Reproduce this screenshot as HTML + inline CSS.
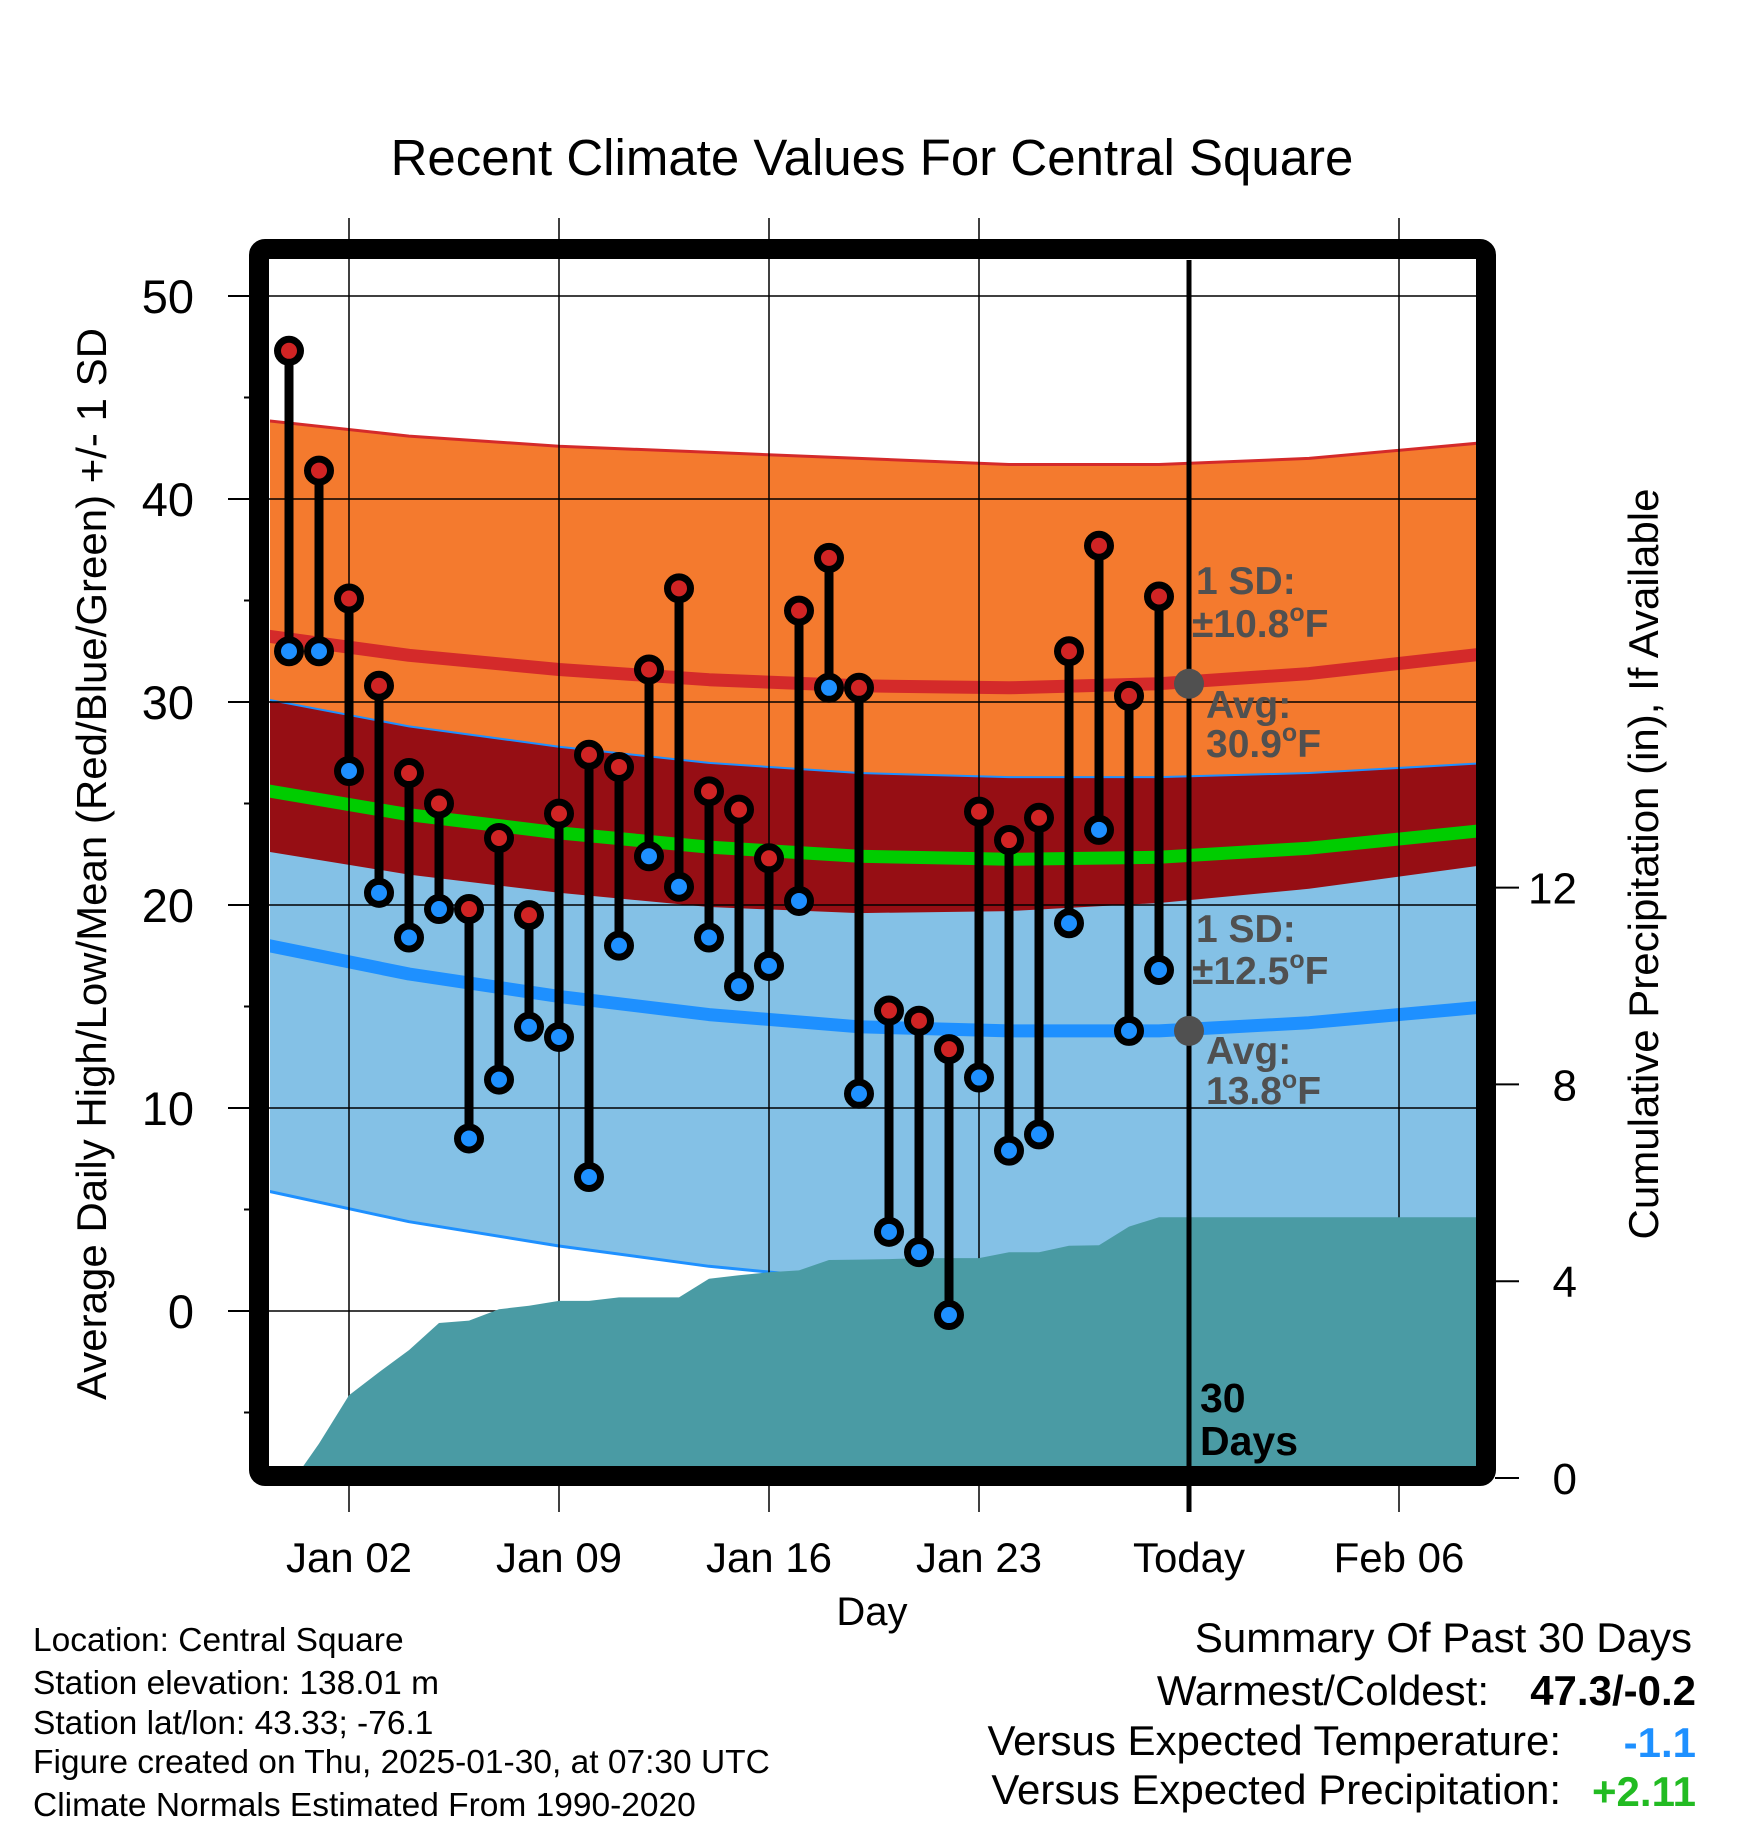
<!DOCTYPE html>
<html><head><meta charset="utf-8">
<style>
html,body{margin:0;padding:0;background:#fff;}
svg{display:block;font-family:"Liberation Sans",Arial,sans-serif;}
</style></head>
<body>
<svg id="chart" width="1748" height="1828" viewBox="0 0 1748 1828" xmlns="http://www.w3.org/2000/svg">
<defs><clipPath id="plotclip"><rect x="270" y="260" width="1208" height="1206"/></clipPath></defs>
<rect x="0" y="0" width="1748" height="1828" fill="#fff"/>
<text x="872" y="175" font-size="51" text-anchor="middle">Recent Climate Values For Central Square</text>
<g id="bands" clip-path="url(#plotclip)"></g>
<g id="grid"></g>
<g id="precip" clip-path="url(#plotclip)"></g>
<g id="marks"></g>
<g id="annot"></g>
<rect x="259" y="249" width="1227" height="1227" rx="6" fill="none" stroke="#000" stroke-width="20"/>
<g id="axes"></g>
<text transform="translate(106,864) rotate(-90)" font-size="42" text-anchor="middle">Average Daily High/Low/Mean (Red/Blue/Green) +/- 1 SD</text>
<text transform="translate(1658,864) rotate(-90)" font-size="42" text-anchor="middle">Cumulative Precipitation (in), If Available</text>
<text x="872" y="1625" font-size="40" text-anchor="middle">Day</text>
<g font-size="33.5">
<text x="33" y="1651">Location: Central Square</text>
<text x="33" y="1694">Station elevation: 138.01 m</text>
<text x="33" y="1734">Station lat/lon: 43.33; -76.1</text>
<text x="33" y="1773">Figure created on Thu, 2025-01-30, at 07:30 UTC</text>
<text x="33" y="1816">Climate Normals Estimated From 1990-2020</text>
</g>
<g font-size="42">
<text x="1692" y="1652" text-anchor="end">Summary Of Past 30 Days</text>
<text x="1489" y="1705" text-anchor="end">Warmest/Coldest:</text>
<text x="1696" y="1705" text-anchor="end" font-weight="bold">47.3/-0.2</text>
<text x="1561" y="1755" text-anchor="end">Versus Expected Temperature:</text>
<text x="1696" y="1757" text-anchor="end" font-weight="bold" fill="#1E90FF">-1.1</text>
<text x="1561" y="1804" text-anchor="end">Versus Expected Precipitation:</text>
<text x="1696" y="1806" text-anchor="end" font-weight="bold" fill="#22BB22">+2.11</text>
</g>
</svg>
<script>
// day index: 0 = Dec 31
const highs = [47.3,41.4,35.1,30.8,26.5,25.0,19.8,23.3,19.5,24.5,27.4,26.8,31.6,35.6,25.6,24.7,22.3,34.5,37.1,30.7,14.8,14.3,12.9,24.6,23.2,24.3,32.5,37.7,30.3,35.2];
const lows  = [32.5,32.5,26.6,20.6,18.4,19.8,8.5,11.4,14.0,13.5,6.6,18.0,22.4,20.9,18.4,16.0,17.0,20.2,30.7,10.7,3.9,2.9,-0.2,11.5,7.9,8.7,19.1,23.7,13.8,16.8];
const precip = [0,0.7,1.68,2.15,2.6,3.15,3.2,3.43,3.5,3.6,3.6,3.67,3.67,3.67,4.05,4.12,4.18,4.22,4.43,4.44,4.45,4.47,4.47,4.47,4.59,4.59,4.72,4.73,5.11,5.30];
const normDays = [-1,4,9,14,19,24,29,34,40];
const hiMean = [33.3,32.3,31.6,31.1,30.8,30.7,30.9,31.4,32.4];
const hiSD   = [10.6,10.8,11.0,11.2,11.2,11.0,10.8,10.6,10.4];
const loMean = [18.1,16.6,15.5,14.6,14.0,13.8,13.8,14.2,15.0];
const loSD   = [12.1,12.2,12.3,12.4,12.5,12.5,12.5,12.3,12.0];
const yTicks = [0,10,20,30,40,50];
const y2Ticks = [0,4,8,12];
const xTickDays = [2,9,16,23,30,37];
const xTickLabels = ["Jan 02","Jan 09","Jan 16","Jan 23","Today","Feb 06"];
const todayDay = 30;

const NS="http://www.w3.org/2000/svg";
const X = d => 289 + 30*d;
const Y = v => 296 + (50 - v)*20.3;
const Y2 = p => 1478 - 49.2*p;
function mk(parent, tag, attrs){const e=document.createElementNS(NS,tag);for(const k in attrs)e.setAttribute(k,attrs[k]);document.getElementById(parent).appendChild(e);return e;}
const pts = arr => normDays.map((d,i)=>X(d)+","+Y(arr[i]).toFixed(1));
const comb = (a,b,s) => a.map((v,i)=>v+s*b[i]);
const hiTop=comb(hiMean,hiSD,1), hiBot=comb(hiMean,hiSD,-1), loTop=comb(loMean,loSD,1), loBot=comb(loMean,loSD,-1);
const midMean = hiMean.map((v,i)=>(v+loMean[i])/2);
function band(top,bot,fill,name){
  const p=pts(top).concat(pts(bot).reverse());
  const e=mk('bands','polygon',{points:p.join(' '),fill:fill});
  
  
}
function line(arr,color,w,name){
  const e=mk('bands','polyline',{points:pts(arr).join(' '),fill:'none',stroke:color,'stroke-width':w,'stroke-linejoin':'round'});
  
  
}
band(hiTop,hiBot,'#F47A2E','high-sd-band');
band(loTop,loBot,'#84C1E6','low-sd-band');
band(loTop,hiBot,'#960E14','overlap-band');
line(hiTop,'#D42A2A',3,'high-plus-sd-line');
line(loTop,'#1E90FF',2,'low-plus-sd-line');
line(loBot,'#1E90FF',3,'low-minus-sd-line');
line(hiMean,'#D42A2A',13,'high-mean-line');
line(midMean,'#00CC00',13,'mean-line');
line(loMean,'#1E90FF',13,'low-mean-line');

// gridlines
yTicks.forEach(v=>{
  const e=mk('grid','line',{x1:228,x2:1478,y1:Y(v),y2:Y(v),stroke:'#000','stroke-width':1.5});
  
  
});
xTickDays.forEach((d,i)=>{
  if(d===todayDay) return;
  const e=mk('grid','line',{x1:X(d),x2:X(d),y1:218,y2:1512,stroke:'#000','stroke-width':1.5});
  
  
});

// precip area
{
  let p=[X(0)+6+","+Y2(0)];
  precip.forEach((v,i)=>{ if(i>0) p.push(X(i)+","+Y2(v).toFixed(1)); });
  p.push("1490,"+Y2(precip[precip.length-1]).toFixed(1));
  p.push("1490,"+Y2(-1)); p.push(X(0)+","+Y2(-1));
  const e=mk('precip','polygon',{points:p.join(' '),fill:'#4A9BA4'});
  
  
}

// today line
{
  const e=mk('marks','line',{x1:X(todayDay),x2:X(todayDay),y1:260,y2:1512,stroke:'#000','stroke-width':5});
  
  
}
// stems + markers
highs.forEach((h,i)=>{
  const s=mk('marks','line',{x1:X(i),x2:X(i),y1:Y(h),y2:Y(lows[i]),stroke:'#000','stroke-width':9});
  
  
});
highs.forEach((h,i)=>{
  const a=mk('marks','circle',{cx:X(i),cy:Y(h),r:11.5,fill:'#D02424',stroke:'#000','stroke-width':7});
  
  
  const b=mk('marks','circle',{cx:X(i),cy:Y(lows[i]),r:11.5,fill:'#1E90FF',stroke:'#000','stroke-width':7});
  
  
});

// annotations
const ti=normDays.indexOf(29);
const todayHi=hiMean[ti], todayLo=loMean[ti];
[[todayHi,'avg-high-dot'],[todayLo,'avg-low-dot']].forEach(([v,n])=>{
  const e=mk('annot','circle',{cx:X(todayDay),cy:Y(v),r:15,fill:'#505050'});
  
  
});
function txt(x,y,html,name,opts){
  const e=mk('annot','text',Object.assign({x:x,y:y,'font-size':39,'font-weight':'bold',fill:'#505050'},opts||{}));
  e.innerHTML=html;
  
  
}
const deg='<tspan font-size="25" dy="-16">o</tspan><tspan dy="16">F</tspan>';
txt(1196,594,'1 SD:','high-sd-label');
txt(1192,637,'±10.8'+deg,'high-sd-value');
txt(1206,718,'Avg:','high-avg-label');
txt(1206,757,'30.9'+deg,'high-avg-value');
txt(1196,942,'1 SD:','low-sd-label');
txt(1192,984,'±12.5'+deg,'low-sd-value');
txt(1206,1064,'Avg:','low-avg-label');
txt(1206,1104,'13.8'+deg,'low-avg-value');
txt(1200,1412,'30','days-count',{fill:'#000','font-size':41});
txt(1200,1455,'Days','days-label',{fill:'#000','font-size':41});

// axes
yTicks.forEach(v=>{
  const t=mk('axes','line',{x1:228,x2:250,y1:Y(v),y2:Y(v),stroke:'#000','stroke-width':2});
  
  
  const l=mk('axes','text',{x:194,y:Y(v)+17,'font-size':47,'text-anchor':'end'});
  l.textContent=v;
  
  
});
[-5,5,15,25,35,45].forEach(v=>{
  const t=mk('axes','line',{x1:244,x2:250,y1:Y(v),y2:Y(v),stroke:'#000','stroke-width':2});
  
  
});
y2Ticks.forEach(v=>{
  const t=mk('axes','line',{x1:1495,x2:1519,y1:Y2(v),y2:Y2(v),stroke:'#000','stroke-width':2});
  
  
  const l=mk('axes','text',{x:1577,y:Y2(v)+16,'font-size':44,'text-anchor':'end'});
  l.textContent=v;
  
  
});
xTickDays.forEach((d,i)=>{
  const l=mk('axes','text',{x:X(d),y:1572,'font-size':42,'text-anchor':'middle'});
  l.textContent=xTickLabels[i];
  
  
});
</script>
</body></html>
